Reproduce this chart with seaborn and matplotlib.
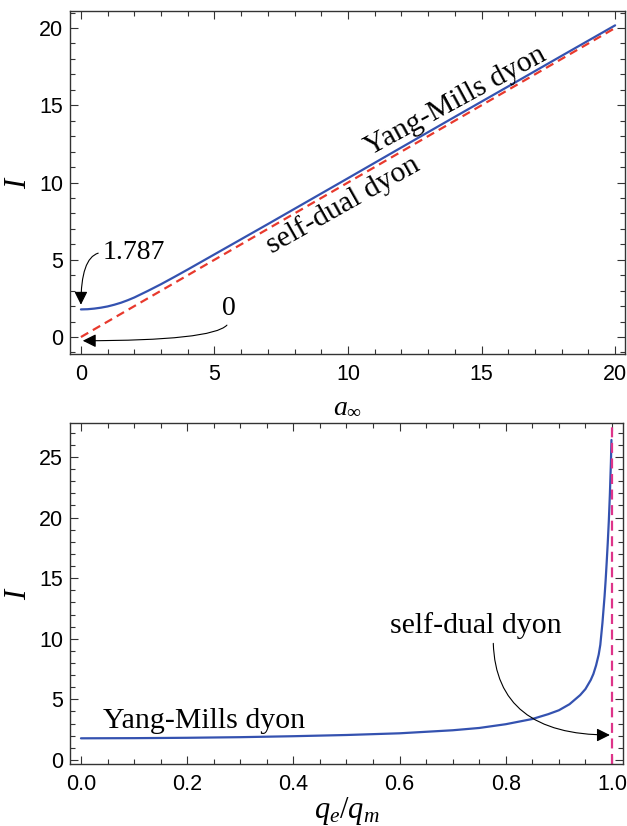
import matplotlib
matplotlib.use("Agg")
import matplotlib.pyplot as plt
from matplotlib.ticker import MultipleLocator, FormatStrFormatter
import seaborn as sns

# ---------------- data ----------------
# top panel: I versus a_inf
a_inf = [0, 0.25, 0.5, 0.75, 1, 1.25, 1.5, 1.75, 2, 2.5, 3, 3.5, 4, 5, 6, 7, 8,
         10, 12, 14, 16, 18, 20]
I_ym_a = [1.787, 1.80, 1.84, 1.90, 1.98, 2.09, 2.22, 2.38, 2.56, 2.98, 3.42, 3.89,
          4.37, 5.35, 6.33, 7.31, 8.3, 10.28, 12.27, 14.25, 16.22, 18.2, 20.17]
a_sd = [0, 20]
I_sd_a = [0, 20]

# bottom panel: I versus q_e/q_m
q_ratio = [0, 0.1, 0.2, 0.3, 0.4, 0.5, 0.6, 0.7, 0.75, 0.8, 0.85, 0.88, 0.9, 0.92,
           0.94, 0.95, 0.96, 0.965, 0.97, 0.975, 0.978, 0.98, 0.982, 0.984, 0.986,
           0.988, 0.99, 0.992, 0.994, 0.996, 0.998, 0.999]
I_ym_q = [1.787, 1.80, 1.83, 1.88, 1.96, 2.06, 2.2, 2.45, 2.64, 2.95, 3.38, 3.78,
          4.1, 4.6, 5.35, 5.85, 6.6, 7.1, 7.8, 8.7, 9.5, 10.4, 11.3, 12.4, 13.5,
          14.8, 16.3, 17.9, 19.7, 21.9, 24.6, 26.4]
selfdual_q = [1.0]

blue = "#3452b0"
red = "#e8392d"
magenta = "#de3489"

# ---------------- style ----------------
sns.set_theme(style="ticks")
plt.rcParams["font.family"] = ["Liberation Sans", "DejaVu Sans"]
plt.rcParams["mathtext.fontset"] = "custom"
plt.rcParams["mathtext.it"] = "Liberation Serif:italic"
plt.rcParams["mathtext.rm"] = "Liberation Serif"
plt.rcParams["mathtext.cal"] = "Liberation Serif"
plt.rcParams["text.color"] = "black"
plt.rcParams["axes.labelcolor"] = "black"

fig = plt.figure(figsize=(6.27, 8.26), dpi=100)
ax1 = fig.add_axes([0.1116, 0.5714, 0.8852, 0.4153])
ax2 = fig.add_axes([0.1116, 0.0751, 0.8820, 0.4128])

serif = ["Liberation Serif", "DejaVu Serif"]


def frame(ax):
    for s in ax.spines.values():
        s.set_color("#333333")
        s.set_linewidth(1.0)
    ax.tick_params(which="both", direction="in", top=True, right=True,
                   color="#333333", width=0.8)
    ax.tick_params(which="major", length=6, labelsize=15.5, pad=5, labelcolor="black")
    ax.tick_params(axis="x", which="major", pad=7)
    ax.tick_params(which="minor", length=3.5)


# ---------------- top panel ----------------
sns.lineplot(x=a_inf, y=I_ym_a, ax=ax1, color=blue, lw=1.6)
sns.lineplot(x=a_sd, y=I_sd_a, ax=ax1, color=red, lw=1.6)
ax1.lines[-1].set_dashes((3.8, 2.4))
ax1.set_xlim(-0.41, 20.37)
ax1.set_ylim(-1.1, 21.1)
ax1.xaxis.set_major_locator(MultipleLocator(5))
ax1.xaxis.set_minor_locator(MultipleLocator(1))
ax1.yaxis.set_major_locator(MultipleLocator(5))
ax1.yaxis.set_minor_locator(MultipleLocator(1))
frame(ax1)
ax1.set_xlabel(r"$a_{\infty}$", fontsize=20, labelpad=6)
ax1.set_ylabel(r"$I$", fontsize=22, labelpad=4)

ax1.text(14.16, 14.87, "Yang-Mills dyon", fontsize=21.5, family=serif, rotation=28.5,
         rotation_mode="anchor", ha="center", va="baseline")
ax1.text(9.95, 8.14, "self-dual dyon", fontsize=21.5, family=serif, rotation=29.5,
         rotation_mode="anchor", ha="center", va="baseline")

arrow_kw = dict(arrowstyle="-|>", color="black", lw=0.8, mutation_scale=20,
                shrinkA=1, shrinkB=0)
ax1.annotate("1.787", xy=(0.0, 2.09), xytext=(0.82, 5.05), fontsize=20, family=serif,
             ha="left", va="baseline",
             arrowprops=dict(connectionstyle="angle3,angleA=0,angleB=90",
                             relpos=(0, 0.5), **arrow_kw))
ax1.annotate("0", xy=(0.07, -0.24), xytext=(5.54, 1.44), fontsize=20, family=serif,
             ha="center", va="baseline",
             arrowprops=dict(connectionstyle="angle3,angleA=90,angleB=0",
                             relpos=(0.5, 0), **arrow_kw))

# ---------------- bottom panel ----------------
sns.lineplot(x=q_ratio, y=I_ym_q, ax=ax2, color=blue, lw=1.6)
vl = ax2.axvline(selfdual_q[0], color=magenta, lw=1.6)
vl.set_dashes((4.5, 2.5))
ax2.set_xlim(-0.0207, 1.0207)
ax2.set_ylim(-0.33, 27.8)
ax2.xaxis.set_major_locator(MultipleLocator(0.2))
ax2.xaxis.set_minor_locator(MultipleLocator(0.05))
ax2.yaxis.set_major_locator(MultipleLocator(5))
ax2.yaxis.set_minor_locator(MultipleLocator(1))
ax2.xaxis.set_major_formatter(FormatStrFormatter("%.1f"))
frame(ax2)
ax2.set_xlabel(r"$q_e/q_m$", fontsize=22, labelpad=0)
ax2.set_ylabel(r"$I$", fontsize=22, labelpad=4)

ax2.text(0.041, 2.6, "Yang-Mills dyon", fontsize=21.5, family=serif,
         ha="left", va="baseline")
ax2.annotate("self-dual dyon", xy=(0.996, 2.06), xytext=(0.744, 10.5), fontsize=21.5,
             family=serif, ha="center", va="baseline",
             arrowprops=dict(connectionstyle="angle3,angleA=90,angleB=0",
                             relpos=(0.6, 0), **arrow_kw))

fig.savefig("out.png", dpi=100)
